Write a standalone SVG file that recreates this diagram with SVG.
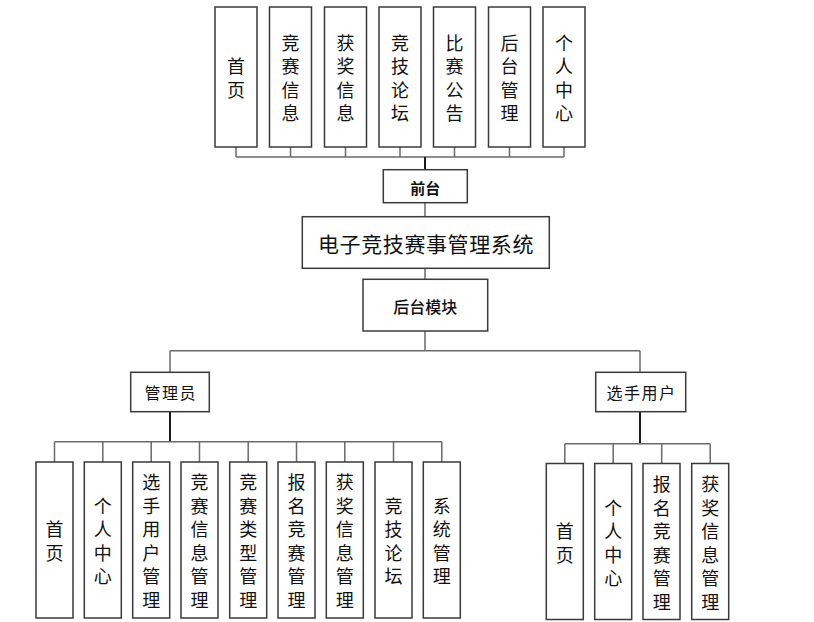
<svg xmlns="http://www.w3.org/2000/svg" width="814" height="622" viewBox="0 0 814 622">
<style>
.bg{fill:#ffffff}
.box{fill:#ffffff;stroke:#3a3a3a;stroke-width:1.5}
.ln{fill:none;stroke:#6a6a6a;stroke-width:1.5}
.lnd{fill:none;stroke:#1a1a1a;stroke-width:2}
.t{font-family:"Noto Sans CJK SC","Noto Sans CJK JP",sans-serif;font-size:18px;fill:#111;text-anchor:middle;dominant-baseline:central}
.tb{font-family:"Noto Sans CJK SC","Noto Sans CJK JP",sans-serif;font-size:15px;font-weight:700;fill:#111;text-anchor:middle;dominant-baseline:central}
.tm{font-family:"Noto Sans CJK SC","Noto Sans CJK JP",sans-serif;font-size:16px;font-weight:500;fill:#111;text-anchor:middle;dominant-baseline:central}
.tl{font-family:"Noto Sans CJK SC","Noto Sans CJK JP",sans-serif;font-size:21px;fill:#111;text-anchor:middle;dominant-baseline:central;letter-spacing:0.6px}
.ts{font-family:"Noto Sans CJK SC","Noto Sans CJK JP",sans-serif;font-size:16px;fill:#111;text-anchor:middle;dominant-baseline:central;letter-spacing:1.5px}
</style>
<rect class="bg" x="0" y="0" width="814" height="622"/>
<g id="connectors">
<path class="ln" d="M236 147V157M290.5 147V157M345.5 147V157M400 147V157M454.5 147V157M509.5 147V157M564 147V157M236 157H564"/>
<path class="lnd" d="M425 157V170"/>
<path class="ln" d="M425 202.7V216.7M425 268.3V279.3"/>
<path class="ln" d="M425 331V350.7M170 350.7H640M170 350.7V372.3M640 350.7V372.3"/>
<path class="lnd" d="M170 411.7V441.7"/>
<path class="ln" d="M54.5 441.7H441.8M54.5 441.7V462M102.8 441.7V462M151.2 441.7V462M199.5 441.7V462M248.2 441.7V462M296.5 441.7V462M344.8 441.7V462M393.5 441.7V462M441.8 441.7V462"/>
<path class="lnd" d="M640 411.7V443.7"/>
<path class="ln" d="M564.8 443.7H710.2M564.8 443.7V463.5M613.2 443.7V463.5M661.7 443.7V463.5M710.2 443.7V463.5"/>
</g>
<g id="top-shouye"><rect class="box" x="215" y="7" width="42" height="140"/><text class="t"><tspan x="236" y="65.25">首</tspan><tspan x="236" y="88.75">页</tspan></text></g>
<g id="top-jingsaixinxi"><rect class="box" x="269.5" y="7" width="42" height="140"/><text class="t"><tspan x="290.5" y="41.75">竞</tspan><tspan x="290.5" y="65.25">赛</tspan><tspan x="290.5" y="88.75">信</tspan><tspan x="290.5" y="112.25">息</tspan></text></g>
<g id="top-huojiangxinxi"><rect class="box" x="324.5" y="7" width="42" height="140"/><text class="t"><tspan x="345.5" y="41.75">获</tspan><tspan x="345.5" y="65.25">奖</tspan><tspan x="345.5" y="88.75">信</tspan><tspan x="345.5" y="112.25">息</tspan></text></g>
<g id="top-luntan"><rect class="box" x="379" y="7" width="42" height="140"/><text class="t"><tspan x="400" y="41.75">竞</tspan><tspan x="400" y="65.25">技</tspan><tspan x="400" y="88.75">论</tspan><tspan x="400" y="112.25">坛</tspan></text></g>
<g id="top-gonggao"><rect class="box" x="433.5" y="7" width="42" height="140"/><text class="t"><tspan x="454.5" y="41.75">比</tspan><tspan x="454.5" y="65.25">赛</tspan><tspan x="454.5" y="88.75">公</tspan><tspan x="454.5" y="112.25">告</tspan></text></g>
<g id="top-houtai"><rect class="box" x="488.5" y="7" width="42" height="140"/><text class="t"><tspan x="509.5" y="41.75">后</tspan><tspan x="509.5" y="65.25">台</tspan><tspan x="509.5" y="88.75">管</tspan><tspan x="509.5" y="112.25">理</tspan></text></g>
<g id="top-geren"><rect class="box" x="543" y="7" width="42" height="140"/><text class="t"><tspan x="564" y="41.75">个</tspan><tspan x="564" y="65.25">人</tspan><tspan x="564" y="88.75">中</tspan><tspan x="564" y="112.25">心</tspan></text></g>
<g id="qiantai"><rect class="box" x="383.3" y="169.7" width="84" height="33"/><text class="tb" x="425.3" y="187">前台</text></g>
<g id="system"><rect class="box" x="302.3" y="216.7" width="247" height="51.6"/><text class="tl" x="426" y="242.5">电子竞技赛事管理系统</text></g>
<g id="houtaimokuai"><rect class="box" x="363" y="279.3" width="124.7" height="51.7"/><text class="tm" x="425.3" y="306">后台模块</text></g>
<g id="admin"><rect class="box" x="130.7" y="372.3" width="78.6" height="39.4"/><text class="ts" x="170.7" y="391.5">管理员</text></g>
<g id="player"><rect class="box" x="595.7" y="372.3" width="90" height="39.4"/><text class="ts" x="641.5" y="391.5">选手用户</text></g>
<g id="a-shouye"><rect class="box" x="36" y="462" width="37" height="156"/><text class="t"><tspan x="54.5" y="528">首</tspan><tspan x="54.5" y="551.5">页</tspan></text></g>
<g id="a-geren"><rect class="box" x="84.3" y="462" width="37" height="156"/><text class="t"><tspan x="102.8" y="504.5">个</tspan><tspan x="102.8" y="528">人</tspan><tspan x="102.8" y="551.5">中</tspan><tspan x="102.8" y="575">心</tspan></text></g>
<g id="a-xuanshou"><rect class="box" x="132.7" y="462" width="37" height="156"/><text class="t"><tspan x="151.2" y="481">选</tspan><tspan x="151.2" y="504.5">手</tspan><tspan x="151.2" y="528">用</tspan><tspan x="151.2" y="551.5">户</tspan><tspan x="151.2" y="575">管</tspan><tspan x="151.2" y="598.5">理</tspan></text></g>
<g id="a-jingsai"><rect class="box" x="181" y="462" width="37" height="156"/><text class="t"><tspan x="199.5" y="481">竞</tspan><tspan x="199.5" y="504.5">赛</tspan><tspan x="199.5" y="528">信</tspan><tspan x="199.5" y="551.5">息</tspan><tspan x="199.5" y="575">管</tspan><tspan x="199.5" y="598.5">理</tspan></text></g>
<g id="a-leixing"><rect class="box" x="229.7" y="462" width="37" height="156"/><text class="t"><tspan x="248.2" y="481">竞</tspan><tspan x="248.2" y="504.5">赛</tspan><tspan x="248.2" y="528">类</tspan><tspan x="248.2" y="551.5">型</tspan><tspan x="248.2" y="575">管</tspan><tspan x="248.2" y="598.5">理</tspan></text></g>
<g id="a-baoming"><rect class="box" x="278" y="462" width="37" height="156"/><text class="t"><tspan x="296.5" y="481">报</tspan><tspan x="296.5" y="504.5">名</tspan><tspan x="296.5" y="528">竞</tspan><tspan x="296.5" y="551.5">赛</tspan><tspan x="296.5" y="575">管</tspan><tspan x="296.5" y="598.5">理</tspan></text></g>
<g id="a-huojiang"><rect class="box" x="326.3" y="462" width="37" height="156"/><text class="t"><tspan x="344.8" y="481">获</tspan><tspan x="344.8" y="504.5">奖</tspan><tspan x="344.8" y="528">信</tspan><tspan x="344.8" y="551.5">息</tspan><tspan x="344.8" y="575">管</tspan><tspan x="344.8" y="598.5">理</tspan></text></g>
<g id="a-luntan"><rect class="box" x="375" y="462" width="37" height="156"/><text class="t"><tspan x="393.5" y="504.5">竞</tspan><tspan x="393.5" y="528">技</tspan><tspan x="393.5" y="551.5">论</tspan><tspan x="393.5" y="575">坛</tspan></text></g>
<g id="a-xitong"><rect class="box" x="423.3" y="462" width="37" height="156"/><text class="t"><tspan x="441.8" y="504.5">系</tspan><tspan x="441.8" y="528">统</tspan><tspan x="441.8" y="551.5">管</tspan><tspan x="441.8" y="575">理</tspan></text></g>
<g id="p-shouye"><rect class="box" x="546.3" y="463.5" width="37" height="156"/><text class="t"><tspan x="564.8" y="530">首</tspan><tspan x="564.8" y="553.5">页</tspan></text></g>
<g id="p-geren"><rect class="box" x="594.7" y="463.5" width="37" height="156"/><text class="t"><tspan x="613.2" y="506.5">个</tspan><tspan x="613.2" y="530">人</tspan><tspan x="613.2" y="553.5">中</tspan><tspan x="613.2" y="577">心</tspan></text></g>
<g id="p-baoming"><rect class="box" x="643" y="463.5" width="37" height="156"/><text class="t"><tspan x="661.7" y="483">报</tspan><tspan x="661.7" y="506.5">名</tspan><tspan x="661.7" y="530">竞</tspan><tspan x="661.7" y="553.5">赛</tspan><tspan x="661.7" y="577">管</tspan><tspan x="661.7" y="600.5">理</tspan></text></g>
<g id="p-huojiang"><rect class="box" x="691.7" y="463.5" width="37" height="156"/><text class="t"><tspan x="710.2" y="483">获</tspan><tspan x="710.2" y="506.5">奖</tspan><tspan x="710.2" y="530">信</tspan><tspan x="710.2" y="553.5">息</tspan><tspan x="710.2" y="577">管</tspan><tspan x="710.2" y="600.5">理</tspan></text></g>
</svg>
